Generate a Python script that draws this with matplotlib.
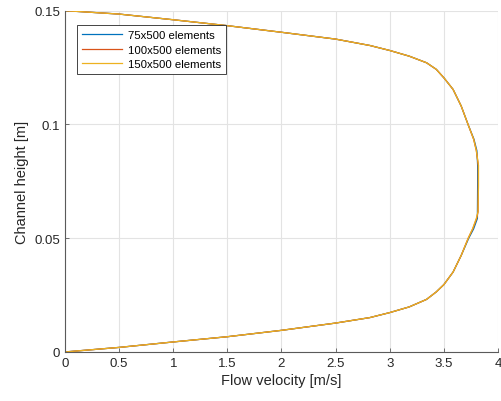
import numpy as np
import matplotlib
matplotlib.use("Agg")
import matplotlib.pyplot as plt

plt.rcParams["font.family"] = ["Liberation Sans", "DejaVu Sans"]

# channel height [m] and flow velocity [m/s] read from the profile
height = [0, 0.002, 0.0044, 0.0067, 0.0095, 0.0127, 0.0151, 0.0173, 0.0198,
          0.0231, 0.0264, 0.0296, 0.0351, 0.0424, 0.05, 0.0541, 0.0587,
          0.0616, 0.073, 0.082, 0.0885, 0.0935, 0.0998, 0.1081, 0.1154,
          0.1205, 0.1242, 0.1271, 0.1300, 0.1325, 0.1347, 0.1375, 0.1405,
          0.1434, 0.146, 0.1485, 0.15]
vel_150 = [0, 0.5, 1.0, 1.5, 2.0, 2.5, 2.816, 3.0, 3.18,
           3.34, 3.43, 3.5, 3.585, 3.66, 3.725, 3.765, 3.80,
           3.815, 3.82, 3.82, 3.80, 3.775, 3.725, 3.66, 3.585,
           3.5, 3.43, 3.34, 3.18, 3.0, 2.816, 2.5, 2.0,
           1.5, 1.0, 0.5, 0]
vel_100 = [0, 0.5, 1.0, 1.5, 2.0, 2.5, 2.816, 3.0, 3.18,
           3.34, 3.43, 3.5, 3.585, 3.66, 3.725, 3.767, 3.803,
           3.816, 3.818, 3.818, 3.80, 3.775, 3.725, 3.66, 3.585,
           3.5, 3.43, 3.34, 3.18, 3.0, 2.816, 2.5, 2.0,
           1.5, 1.0, 0.5, 0]
vel_75 = [0, 0.5, 1.0, 1.5, 2.0, 2.5, 2.816, 3.0, 3.18,
          3.34, 3.43, 3.5, 3.585, 3.66, 3.73, 3.775, 3.81,
          3.81, 3.812, 3.812, 3.805, 3.778, 3.725, 3.66, 3.585,
          3.5, 3.43, 3.34, 3.18, 3.0, 2.816, 2.5, 2.0,
          1.5, 1.0, 0.5, 0]

labels = ["75x500 elements", "100x500 elements", "150x500 elements"]
colors = ["#0072BD", "#D95319", "#EDB120"]

fig = plt.figure(figsize=(5.02, 4.02), dpi=100)
ax = fig.add_axes([0.1295, 0.122, 0.8625, 0.849])

for v, lab, c in zip([vel_75, vel_100, vel_150], labels, colors):
    ax.plot(v, height, color=c, lw=0.9, label=lab)

ax.set_xlim(0, 4)
ax.set_ylim(0, 0.15)
ax.set_xticks(np.arange(0, 4.01, 0.5))
ax.set_xticklabels(["0", "0.5", "1", "1.5", "2", "2.5", "3", "3.5", "4"])
ax.set_yticks([0, 0.05, 0.1, 0.15])
ax.set_yticklabels(["0", "0.05", "0.1", "0.15"])
ax.grid(True, color="#e3e3e3", lw=0.8)
ax.set_axisbelow(True)
for s in ["top", "right"]:
    ax.spines[s].set_visible(False)
for s in ["left", "bottom"]:
    ax.spines[s].set_color("#5a5a5a")
    ax.spines[s].set_linewidth(0.8)
ax.tick_params(direction="in", length=3, width=0.6, colors="#5a5a5a",
               labelcolor="#262626", labelsize=9.5)

ax.set_xlabel("Flow velocity [m/s]", fontsize=10.5, color="#262626", labelpad=3)
ax.set_ylabel("Channel height [m]", fontsize=10.5, color="#262626", labelpad=4)

leg = ax.legend(loc="upper left", bbox_to_anchor=(0.028, 0.957),
                borderaxespad=0, fontsize=8.2, handlelength=3.5,
                fancybox=False, framealpha=1, edgecolor="#262626",
                borderpad=0.4, labelspacing=0.42, handletextpad=0.6)
leg.get_frame().set_linewidth(0.6)

fig.savefig("out.png", dpi=100)
